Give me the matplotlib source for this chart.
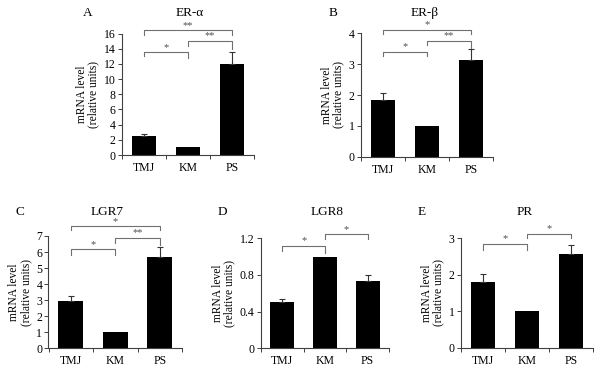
import matplotlib
matplotlib.use("Agg")
import matplotlib.pyplot as plt
import numpy as np

plt.rcParams['font.family'] = ['Liberation Serif', 'DejaVu Serif']

categories = ["TMJ", "KM", "PS"]

# panel data
erα_vals = [2.55, 1.0, 12.0]
erα_errs = [0.2, 0.0, 1.6]
erβ_vals = [1.84, 1.0, 3.15]
erβ_errs = [0.21, 0.0, 0.33]
lgr7_vals = [2.95, 1.0, 5.7]
lgr7_errs = [0.3, 0.0, 0.6]
lgr8_vals = [0.50, 1.0, 0.73]
lgr8_errs = [0.04, 0.0, 0.07]
pr_vals = [1.80, 1.0, 2.58]
pr_errs = [0.22, 0.0, 0.24]

# significance brackets: (from, to, line y, left leg end, right leg end, label)
erα_sig = [(0, 1, 13.5, 13.0, 12.8, "*"), (1, 2, 15.0, 14.3, 13.9, "**"),
           (0, 2, 16.4, 15.8, 15.8, "**")]
erβ_sig = [(0, 1, 3.40, 3.26, 3.26, "*"), (1, 2, 3.76, 3.62, 3.52, "**"),
           (0, 2, 4.11, 3.98, 3.98, "*")]
lgr7_sig = [(0, 1, 6.17, 5.84, 5.84, "*"), (1, 2, 6.87, 6.58, 6.42, "**"),
            (0, 2, 7.6, 7.35, 7.35, "*")]
lgr8_sig = [(0, 1, 1.12, 1.06, 1.036, "*"), (1, 2, 1.243, 1.19, 1.19, "*")]
pr_sig = [(0, 1, 2.84, 2.68, 2.68, "*"), (1, 2, 3.13, 3.0, 3.0, "*")]

panels = [
    # letter, title, values, errors, sig, yticks, ticklabels, pixel box (l, r, top, bottom), letter x, title x, header y
    ("A", "ER-α", erα_vals, erα_errs, erα_sig, [0, 2, 4, 6, 8, 10, 12, 14, 16], None,
     (122, 254, 33.5, 155), 88, 190, 13),
    ("B", "ER-β", erβ_vals, erβ_errs, erβ_sig, [0, 1, 2, 3, 4], None,
     (361, 493, 33.3, 156.7), 333, 425, 13),
    ("C", "LGR7", lgr7_vals, lgr7_errs, lgr7_sig, [0, 1, 2, 3, 4, 5, 6, 7], None,
     (48.5, 182, 236, 348.3), 20, 107, 212),
    ("D", "LGR8", lgr8_vals, lgr8_errs, lgr8_sig, [0, 0.4, 0.8, 1.2], ["0", "0.4", "0.8", "1.2"],
     (261, 389, 238.3, 348.3), 222, 327, 212),
    ("E", "PR", pr_vals, pr_errs, pr_sig, [0, 1, 2, 3], None,
     (461, 593, 238.3, 347.7), 422, 525, 212),
]

W, H = 600, 368
fig = plt.figure(figsize=(W / 100, H / 100), dpi=100)

spine_col = "#404040"
brk_col = "#707070"

for letter, title, vals, errs, sig, yticks, ytl, (l, r, t, b), lx, tx, hy in panels:
    ax = fig.add_axes([l / W, 1 - b / H, (r - l) / W, (b - t) / H])
    x = np.arange(len(categories))
    ax.bar(x, vals, width=0.56, color="black", edgecolor="none", zorder=2)
    for xi, v, e in zip(x, vals, errs):
        if e > 0:
            ax.errorbar(xi, v, yerr=[[0], [e]], fmt="none", ecolor="#333333",
                        elinewidth=0.8, capsize=2, capthick=0.8, zorder=3)
    ax.set_xlim(-0.5, 2.5)
    ax.set_ylim(0, yticks[-1])
    ax.set_yticks(yticks)
    if ytl is not None:
        ax.set_yticklabels(ytl)
    ax.set_xticks([-0.5, 0.5, 1.5, 2.5])
    ax.set_xticklabels([])
    ax.set_xticks(x, minor=True)
    ax.set_xticklabels(categories, minor=True)
    ax.tick_params(axis="x", which="minor", length=0, labelsize=8.5, pad=5)
    ax.tick_params(axis="x", which="major", length=3, width=0.7, color=spine_col, direction="out")
    ax.tick_params(axis="y", length=3, width=0.7, color=spine_col, labelsize=8.5, pad=1.5)
    for s in ("top", "right"):
        ax.spines[s].set_visible(False)
    for s in ("left", "bottom"):
        ax.spines[s].set_color(spine_col)
        ax.spines[s].set_linewidth(0.8)
    ax.set_ylabel("mRNA level\n(relative units)", fontsize=8.3, labelpad=3, linespacing=1.0)
    for i, j, yl, ya, yb, lab in sig:
        ax.plot([i, i, j, j], [ya, yl, yl, yb], color=brk_col, lw=0.8,
                clip_on=False, zorder=4)
        ax.annotate(lab, xy=((i + j) / 2, yl), xytext=(0, 0.5),
                    textcoords="offset points", ha="center", va="bottom",
                    fontsize=7.5, color="#505050", annotation_clip=False)
    fig.text(tx / W, 1 - hy / H, title, ha="center", va="center", fontsize=9.5)
    fig.text(lx / W, 1 - hy / H, letter, ha="center", va="center", fontsize=9.5)

fig.savefig("out.png", dpi=100)
